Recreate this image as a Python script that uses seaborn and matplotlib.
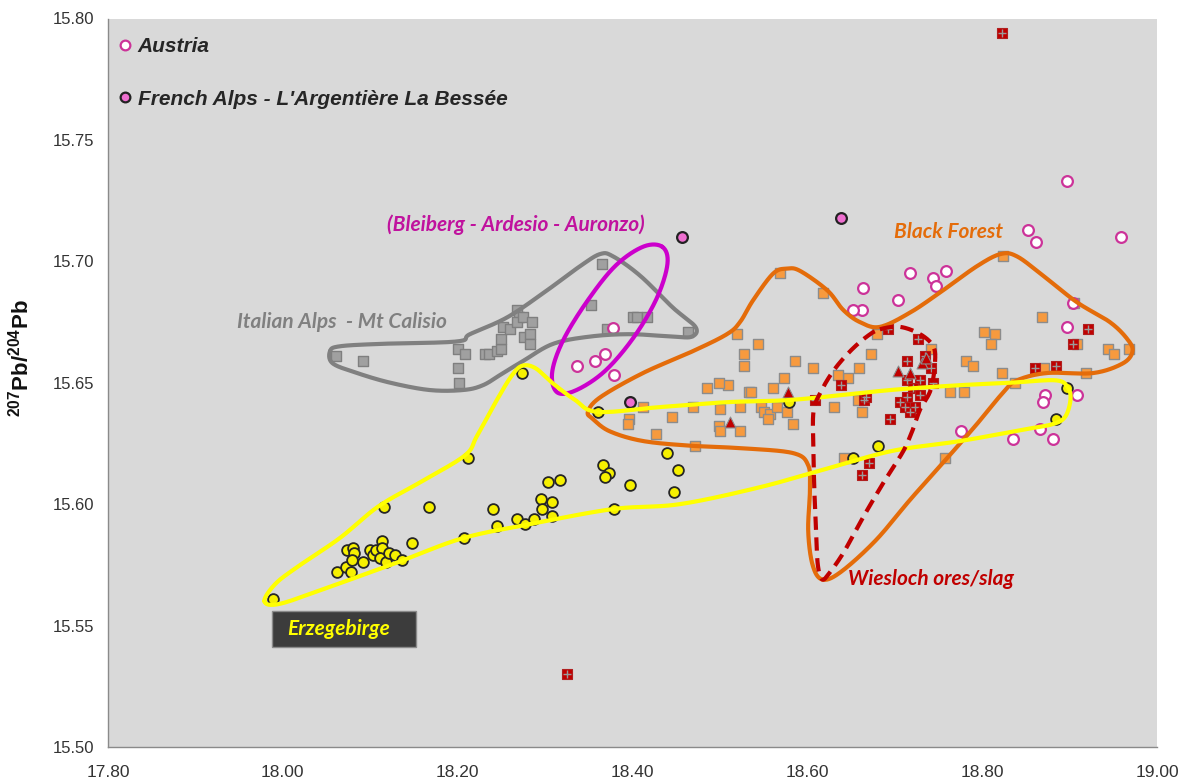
import numpy as np
import matplotlib
matplotlib.use("Agg")
import matplotlib.pyplot as plt
from matplotlib.lines import Line2D
from matplotlib.patches import Rectangle
import seaborn as sns

# ---------------- data: 206Pb/204Pb (x) vs 207Pb/204Pb (y) ----------------
austria_x = [18.378, 18.337, 18.357, 18.369, 18.379, 18.897, 18.852, 18.862, 18.959,
             18.664, 18.718, 18.744, 18.759, 18.747, 18.704, 18.662, 18.652,
             18.897, 18.904, 18.872, 18.870, 18.909, 18.776, 18.866, 18.835, 18.881]
austria_y = [15.6725, 15.657, 15.659, 15.662, 15.653, 15.733, 15.713, 15.708, 15.710,
             15.689, 15.695, 15.693, 15.696, 15.690, 15.684, 15.680, 15.680,
             15.673, 15.683, 15.645, 15.642, 15.645, 15.630, 15.631, 15.627, 15.627]

french_x = [18.457, 18.639, 18.397]
french_y = [15.710, 15.718, 15.642]

erz_x = [17.989,
         18.062, 18.072, 18.078, 18.073, 18.080, 18.081, 18.079, 18.092, 18.100, 18.103,
         18.107, 18.113, 18.113, 18.111, 18.118, 18.121, 18.128, 18.136, 18.148,
         18.116, 18.167, 18.212, 18.240, 18.245, 18.268, 18.277, 18.287, 18.295, 18.297,
         18.308, 18.308, 18.303, 18.317, 18.207, 18.366, 18.373, 18.368, 18.397, 18.379,
         18.440, 18.452, 18.448, 18.361, 18.274, 18.579, 18.681, 18.652, 18.897, 18.884]
erz_y = [15.561,
         15.572, 15.574, 15.572, 15.581, 15.582, 15.580, 15.577, 15.576, 15.581, 15.579,
         15.581, 15.585, 15.582, 15.578, 15.576, 15.580, 15.579, 15.577, 15.584,
         15.599, 15.599, 15.619, 15.598, 15.591, 15.594, 15.592, 15.594, 15.602, 15.598,
         15.601, 15.595, 15.609, 15.610, 15.586, 15.616, 15.613, 15.611, 15.608, 15.598,
         15.621, 15.614, 15.605, 15.638, 15.654, 15.642, 15.624, 15.619, 15.648, 15.635]

ital_x = [18.061, 18.092, 18.200, 18.208, 18.200, 18.202, 18.231, 18.236, 18.245, 18.250,
          18.250, 18.252, 18.260, 18.268, 18.270, 18.268, 18.275, 18.285, 18.276, 18.283,
          18.283, 18.353, 18.365, 18.371, 18.401, 18.405, 18.417, 18.464]
ital_y = [15.661, 15.659, 15.664, 15.662, 15.656, 15.650, 15.662, 15.662, 15.663, 15.664,
          15.668, 15.673, 15.672, 15.680, 15.677, 15.675, 15.677, 15.675, 15.669, 15.670,
          15.666, 15.682, 15.699, 15.672, 15.677, 15.677, 15.677, 15.671]

bf_x = [18.569, 18.618, 18.520, 18.543, 18.528, 18.527, 18.586, 18.607, 18.673, 18.659,
        18.646, 18.573, 18.561, 18.533, 18.536, 18.509, 18.499, 18.485, 18.412, 18.396,
        18.395, 18.427, 18.445, 18.469, 18.500, 18.523, 18.547, 18.551, 18.557, 18.565,
        18.555, 18.577, 18.584, 18.499, 18.500, 18.523, 18.472, 18.631, 18.658, 18.663,
        18.642, 18.680, 18.824, 18.905, 18.869, 18.802, 18.815, 18.810, 18.782, 18.790,
        18.823, 18.909, 18.944, 18.951, 18.968, 18.919, 18.871, 18.763, 18.779, 18.742,
        18.758, 18.635, 18.838]
bf_y = [15.695, 15.687, 15.670, 15.666, 15.662, 15.657, 15.659, 15.656, 15.662, 15.656,
        15.652, 15.652, 15.648, 15.646, 15.646, 15.649, 15.650, 15.648, 15.640, 15.635,
        15.633, 15.629, 15.636, 15.640, 15.639, 15.640, 15.640, 15.638, 15.637, 15.640,
        15.635, 15.638, 15.633, 15.632, 15.630, 15.630, 15.624, 15.640, 15.643, 15.638,
        15.619, 15.670, 15.702, 15.683, 15.677, 15.671, 15.670, 15.666, 15.659, 15.657,
        15.654, 15.666, 15.664, 15.662, 15.664, 15.654, 15.656, 15.646, 15.646, 15.664,
        15.619, 15.653, 15.650]

wies_x = [18.823, 18.325, 18.921, 18.904, 18.861, 18.885, 18.694, 18.665, 18.692, 18.727,
          18.714, 18.741, 18.714, 18.729, 18.744, 18.721, 18.714, 18.729, 18.706, 18.712,
          18.723, 18.718, 18.638, 18.667, 18.609, 18.735, 18.663, 18.671]
wies_y = [15.794, 15.530, 15.672, 15.666, 15.656, 15.657, 15.635, 15.643, 15.672, 15.668,
          15.659, 15.656, 15.651, 15.651, 15.650, 15.648, 15.644, 15.645, 15.642, 15.640,
          15.640, 15.638, 15.649, 15.644, 15.643, 15.661, 15.612, 15.617]

slag_x = [18.578, 18.511, 18.704, 18.718, 18.731, 18.736]
slag_y = [15.646, 15.634, 15.655, 15.654, 15.658, 15.660]

# ---------------- field outlines (closed, smoothed) ----------------
ital_fx = [18.054, 18.065, 18.111, 18.199, 18.214, 18.257, 18.302, 18.340, 18.363, 18.378,
           18.409, 18.446, 18.472, 18.468, 18.446, 18.397, 18.351, 18.309, 18.275, 18.252,
           18.229, 18.206, 18.168, 18.123, 18.085, 18.057]
ital_fy = [15.663, 15.665, 15.666, 15.667, 15.670, 15.677, 15.688, 15.698, 15.703, 15.702,
           15.694, 15.681, 15.673, 15.669, 15.669, 15.670, 15.669, 15.666, 15.659, 15.654,
           15.649, 15.647, 15.647, 15.650, 15.654, 15.658]

bleib_fx = [18.434, 18.440, 18.428, 18.402, 18.369, 18.336, 18.314, 18.308, 18.320, 18.347,
            18.380, 18.412]
bleib_fy = [15.706, 15.699, 15.685, 15.669, 15.655, 15.647, 15.646, 15.654, 15.667, 15.683,
            15.698, 15.706]

erz_fx = [17.979, 17.991, 18.016, 18.065, 18.109, 18.157, 18.208, 18.222, 18.245, 18.262,
          18.274, 18.289, 18.308, 18.334, 18.360, 18.432, 18.508, 18.584, 18.695, 18.775,
          18.832, 18.884, 18.898, 18.901, 18.895, 18.881, 18.852, 18.775, 18.698, 18.626,
          18.546, 18.454, 18.378, 18.286, 18.206, 18.131, 18.054, 17.997]
erz_fy = [15.560, 15.567, 15.574, 15.586, 15.599, 15.609, 15.620, 15.628, 15.643, 15.653,
          15.657, 15.656, 15.650, 15.643, 15.638, 15.640, 15.642, 15.643, 15.647, 15.649,
          15.650, 15.651, 15.648, 15.643, 15.636, 15.633, 15.631, 15.626, 15.622, 15.615,
          15.607, 15.600, 15.598, 15.592, 15.586, 15.576, 15.566, 15.559]

bf_fx = [18.349, 18.363, 18.412, 18.469, 18.508, 18.523, 18.538, 18.561, 18.577, 18.592,
         18.623, 18.641, 18.660, 18.683, 18.718, 18.755, 18.794, 18.821, 18.840, 18.870,
         18.909, 18.946, 18.966, 18.972, 18.961, 18.927, 18.874, 18.840, 18.824, 18.794,
         18.760, 18.718, 18.678, 18.638, 18.617, 18.606, 18.601, 18.603, 18.601, 18.584,
         18.527, 18.469, 18.412, 18.374, 18.355]
bf_fy = [15.638, 15.644, 15.654, 15.663, 15.670, 15.675, 15.684, 15.695, 15.697, 15.696,
         15.688, 15.680, 15.675, 15.673, 15.679, 15.688, 15.698, 15.703, 15.702, 15.694,
         15.683, 15.675, 15.668, 15.663, 15.658, 15.654, 15.654, 15.651, 15.646, 15.633,
         15.619, 15.602, 15.585, 15.572, 15.569, 15.575, 15.589, 15.606, 15.616, 15.621,
         15.623, 15.624, 15.626, 15.630, 15.635]

wies_fx = [18.683, 18.706, 18.729, 18.744, 18.746, 18.741, 18.729, 18.721, 18.710, 18.689,
           18.666, 18.643, 18.626, 18.617, 18.612, 18.610, 18.608, 18.607, 18.607, 18.615,
           18.630, 18.649, 18.668]
wies_fy = [15.672, 15.673, 15.670, 15.665, 15.658, 15.647, 15.639, 15.631, 15.622, 15.610,
           15.596, 15.581, 15.572, 15.569, 15.575, 15.589, 15.606, 15.622, 15.638, 15.646,
           15.655, 15.663, 15.669]

x_ticks = [17.80, 18.00, 18.20, 18.40, 18.60, 18.80, 19.00]
y_ticks = [15.50, 15.55, 15.60, 15.65, 15.70, 15.75, 15.80]


def closed_curve(xs, ys, n=24):
    """Closed Catmull-Rom spline through the given vertices."""
    p = np.column_stack([xs, ys]).astype(float)
    m = len(p)
    t = np.linspace(0, 1, n, endpoint=False)[:, None]
    segs = []
    for i in range(m):
        p0, p1, p2, p3 = p[(i - 1) % m], p[i], p[(i + 1) % m], p[(i + 2) % m]
        segs.append(0.5 * (2 * p1 + (-p0 + p2) * t
                           + (2 * p0 - 5 * p1 + 4 * p2 - p3) * t ** 2
                           + (-p0 + 3 * p1 - 3 * p2 + p3) * t ** 3))
    segs.append(p[:1])
    c = np.vstack(segs)
    return c[:, 0], c[:, 1]


sns.set_theme(style="white")
plt.rcParams["font.family"] = ["Liberation Sans", "DejaVu Sans"]
plt.rcParams["mathtext.fontset"] = "custom"
plt.rcParams["mathtext.bf"] = "Liberation Sans:bold"
plt.rcParams["mathtext.rm"] = "Liberation Sans"

fig = plt.figure(figsize=(11.88, 7.83), dpi=100)
ax = fig.add_axes([108 / 1188, 1 - 747 / 783, 1049 / 1188, 728.5 / 783])
ax.set_facecolor("#d9d9d9")

ms_c = 60   # circles
ms_s = 62   # squares / triangles
sns.scatterplot(x=ital_x, y=ital_y, marker="s", s=ms_s, color="#a0a0a0",
                edgecolor="#7f7f7f", linewidth=1.0, ax=ax, zorder=3, legend=False)
sns.scatterplot(x=bf_x, y=bf_y, marker="s", s=ms_s, color="#f79a3e",
                edgecolor="#8c8c8c", linewidth=1.0, ax=ax, zorder=3, legend=False)
sns.scatterplot(x=erz_x, y=erz_y, marker="o", s=ms_c, color="#f6f000",
                edgecolor="#262626", linewidth=1.3, ax=ax, zorder=4, legend=False)
sns.scatterplot(x=wies_x, y=wies_y, marker="s", s=ms_s, color="#c00000",
                edgecolor="#b02020", linewidth=0.8, ax=ax, zorder=4, legend=False)
sns.scatterplot(x=wies_x, y=wies_y, marker="+", s=34, color="#9a9a9a",
                linewidth=1.0, ax=ax, zorder=4, legend=False)
sns.scatterplot(x=slag_x, y=slag_y, marker="^", s=ms_s, color="#c00000",
                edgecolor="#8c8c8c", linewidth=0.8, ax=ax, zorder=4, legend=False)
sns.scatterplot(x=austria_x, y=austria_y, marker="o", s=ms_c, color="white",
                edgecolor="#cc3399", linewidth=1.6, ax=ax, zorder=4, legend=False)
sns.scatterplot(x=french_x, y=french_y, marker="o", s=ms_c, color="#ee6fd0",
                edgecolor="#222222", linewidth=1.6, ax=ax, zorder=4, legend=False)

# field outlines
lw = 3.0
for fx, fy, col, z in [(ital_fx, ital_fy, "#808080", 5),
                       (bleib_fx, bleib_fy, "#cc00cc", 5),
                       (bf_fx, bf_fy, "#e46c0a", 6),
                       (erz_fx, erz_fy, "#ffff00", 7)]:
    cx, cy = closed_curve(fx, fy)
    ax.plot(cx, cy, color=col, lw=lw, zorder=z, solid_capstyle="round")
cx, cy = closed_curve(wies_fx, wies_fy)
ax.plot(cx, cy, color="#c00000", lw=lw, zorder=8, dashes=(3.2, 1.8))

# field labels
lab = dict(family=["Lato", "DejaVu Sans"], fontweight="bold", style="italic",
           fontsize=15, ha="center", va="center", zorder=9)
ax.text(18.266, 15.715, "(Bleiberg - Ardesio - Auronzo)", color="#c0129e", **lab)
ax.text(18.068, 15.675, "Italian Alps  - Mt Calisio", color="#808080", **lab)
ax.text(18.761, 15.712, "Black Forest", color="#e46c0a", **lab)
ax.text(18.741, 15.569, "Wiesloch ores/slag", color="#c00000", **lab)
ax.add_patch(Rectangle((17.988, 15.541), 0.164, 0.015, facecolor="#3c3c3c",
                       edgecolor="#8a8a8a", lw=1.0, zorder=9))
ax.text(18.064, 15.5485, "Erzegebirge", color="#ffff00", **{**lab, "zorder": 10})

# legend
handles = [Line2D([], [], marker="o", ls="", markersize=7, markerfacecolor="white",
                  markeredgecolor="#cc3399", markeredgewidth=1.6, label="Austria"),
           Line2D([], [], marker="o", ls="", markersize=7, markerfacecolor="#ee6fd0",
                  markeredgecolor="#222222", markeredgewidth=1.6,
                  label="French Alps - L'Argentière La Bessée")]
leg = ax.legend(handles=handles, loc="upper left", bbox_to_anchor=(0.0067, 0.974),
                frameon=False, borderpad=0, borderaxespad=0, handlelength=1.0,
                handletextpad=0.08, labelspacing=1.6,
                prop=dict(family="Liberation Sans", weight="bold", style="italic", size=15))
leg.set_zorder(10)

# axes
ax.set_xlim(17.80, 19.00)
ax.set_ylim(15.50, 15.80)
ax.set_xticks(x_ticks)
ax.set_yticks(y_ticks)
ax.set_xticklabels([f"{v:.2f}" for v in x_ticks])
ax.set_yticklabels([f"{v:.2f}" for v in y_ticks])
ax.tick_params(axis="both", direction="out", length=4, width=1, color="#8a8a8a",
               labelsize=12, labelcolor="#333333", pad=6)
ax.tick_params(axis="x", labelsize=12.5, pad=9)
for side in ["top", "right"]:
    ax.spines[side].set_visible(False)
for side in ["left", "bottom"]:
    ax.spines[side].set_color("#8a8a8a")
    ax.spines[side].set_linewidth(1.0)
ax.set_xlabel("")
ax.set_ylabel(r"$\mathbf{^{207}Pb/^{204}Pb}$", fontsize=16, color="#111111")
ax.yaxis.set_label_coords(-0.071, 0.534)

fig.savefig("out.png", dpi=100, facecolor="white")
